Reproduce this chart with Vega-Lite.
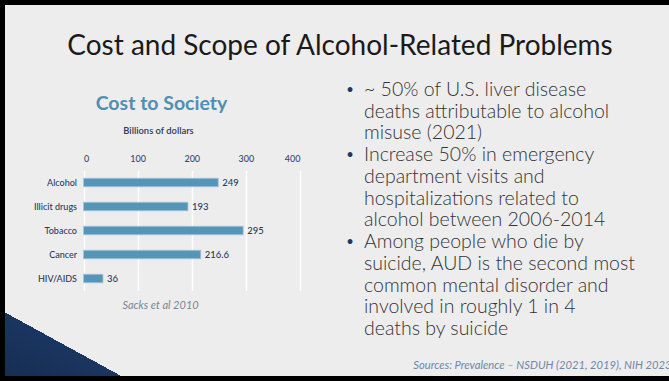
{
  "$schema": "https://vega.github.io/schema/vega-lite/v6.json",
  "width": 680,
  "height": 381,
  "autosize": "none",
  "padding": 0,
  "background": "#ededed",
  "title": {
    "text": "Cost and Scope of Alcohol-Related Problems",
    "anchor": "middle",
    "frame": "group",
    "offset": -61,
    "font": "Lato",
    "fontSize": 28,
    "fontWeight": "normal",
    "color": "#1a1a1a"
  },
  "config": {
    "font": "Lato",
    "view": {
      "stroke": "#000000",
      "strokeWidth": 10,
      "fill": {
        "gradient": "linear",
        "x1": 0,
        "y1": 1,
        "x2": 0.69858,
        "y2": 0.28445,
        "stops": [
          {"offset": 0, "color": "#162d52"},
          {"offset": 0.1339, "color": "#1a3560"},
          {"offset": 0.1339, "color": "#ededed"},
          {"offset": 1, "color": "#ededed"}
        ]
      }
    },
    "axis": {"labelFont": "Lato", "titleFont": "Lato"}
  },
  "layer": [
    {
      "data": {
        "values": [
          {"cause": "Alcohol", "cost": 249},
          {"cause": "Illicit drugs", "cost": 193},
          {"cause": "Tobacco", "cost": 295},
          {"cause": "Cancer", "cost": 216.6},
          {"cause": "HIV/AIDS", "cost": 36}
        ]
      },
      "layer": [
        {
          "mark": {"type": "bar", "color": "#5596b8", "stroke": "#a3c7db", "strokeWidth": 0.8},
          "encoding": {
            "x": {
              "field": "cost",
              "type": "quantitative",
              "scale": {"domain": [0, 400], "range": [83.5, 300], "nice": false, "zero": true},
              "axis": {
                "orient": "top",
                "offset": -168,
                "values": [0, 100, 200, 300, 400],
                "labelPadding": 5,
                "ticks": false,
                "domain": false,
                "grid": true,
                "gridColor": "#ffffff",
                "gridWidth": 1.5,
                "labelFontSize": 9,
                "labelFontWeight": 500,
                "labelColor": "#3a4868",
                "title": "Billions of dollars",
                "titleX": 158,
                "titleY": -38,
                "titleBaseline": "middle",
                "titleAlign": "center",
                "titleFontSize": 9.4,
                "titleFontWeight": 600,
                "titleColor": "#2e3a58"
              }
            },
            "y": {
              "field": "cause",
              "type": "nominal",
              "sort": null,
              "scale": {"range": [170.5, 290.5], "paddingInner": 0.646, "paddingOuter": 0.323},
              "axis": {
                "orient": "left",
                "offset": -83.5,
                "labelPadding": 7,
                "ticks": false,
                "domain": false,
                "grid": false,
                "labelFontSize": 9,
                "labelFontWeight": 500,
                "labelColor": "#2e3a58",
                "title": "Sacks et al 2010",
                "titleAngle": 0,
                "titleX": 76.5,
                "titleY": 305,
                "titleAlign": "center",
                "titleBaseline": "middle",
                "titleFontSize": 11,
                "titleFontWeight": "normal",
                "titleFontStyle": "italic",
                "titleColor": "#7c8498"
              }
            }
          }
        },
        {
          "mark": {"type": "text", "align": "left", "baseline": "middle", "dx": 4, "fontSize": 9.5, "fontWeight": 500, "color": "#2e3a58"},
          "encoding": {
            "x": {
              "field": "cost",
              "type": "quantitative",
              "axis": {
                "orient": "top",
                "offset": -168,
                "labels": false,
                "ticks": false,
                "domain": false,
                "grid": false,
                "title": "Cost to Society",
                "titleX": 161,
                "titleY": -65,
                "titleBaseline": "middle",
                "titleAlign": "center",
                "titleFontSize": 19.5,
                "titleFontWeight": "bold",
                "titleColor": "#4f8fb3"
              }
            },
            "y": {"field": "cause", "type": "nominal", "sort": null, "axis": null},
            "text": {"field": "cost", "type": "quantitative"}
          }
        }
      ],
      "resolve": {"axis": {"x": "independent", "y": "independent"}}
    },
    {
      "data": {
        "values": [
          {"line": 1, "bullet": "•", "text": "~ 50% of U.S. liver disease"},
          {"line": 2, "bullet": "", "text": "deaths attributable to alcohol"},
          {"line": 3, "bullet": "", "text": "misuse (2021)"},
          {"line": 4, "bullet": "•", "text": "Increase 50% in emergency"},
          {"line": 5, "bullet": "", "text": "department visits and"},
          {"line": 6, "bullet": "", "text": "hospitalizations related to"},
          {"line": 7, "bullet": "", "text": "alcohol between 2006-2014"},
          {"line": 8, "bullet": "•", "text": "Among people who die by"},
          {"line": 9, "bullet": "", "text": "suicide, AUD is the second most"},
          {"line": 10, "bullet": "", "text": "common mental disorder and"},
          {"line": 11, "bullet": "", "text": "involved in roughly 1 in 4"},
          {"line": 12, "bullet": "", "text": "deaths by suicide"}
        ]
      },
      "layer": [
        {
          "mark": {"type": "text", "align": "left", "baseline": "middle", "dx": 24, "fontSize": 19.5, "fontWeight": 300, "color": "#333333"},
          "encoding": {
            "y": {
              "field": "line",
              "type": "ordinal",
              "scale": {"type": "point", "range": [90, 329], "padding": 0},
              "axis": {
                "orient": "left",
                "labels": false,
                "ticks": false,
                "domain": false,
                "grid": false,
                "title": "Sources: Prevalence – NSDUH (2021, 2019), NIH 2023",
                "titleAngle": 0,
                "titleX": 671,
                "titleY": 365,
                "titleAlign": "right",
                "titleBaseline": "middle",
                "titleFontSize": 11.2,
                "titleFontWeight": "normal",
                "titleFontStyle": "italic",
                "titleColor": "#6f86a8"
              }
            },
            "text": {"field": "text", "type": "nominal"}
          }
        },
        {
          "transform": [{"filter": "datum.bullet != ''"}],
          "mark": {"type": "text", "align": "center", "baseline": "middle", "dx": 10, "fontSize": 13, "color": "#1f3864"},
          "encoding": {
            "y": {"field": "line", "type": "ordinal"},
            "text": {"field": "bullet", "type": "nominal"}
          }
        }
      ]
    }
  ],
  "resolve": {
    "scale": {"x": "independent", "y": "independent"},
    "axis": {"x": "independent", "y": "independent"}
  }
}
